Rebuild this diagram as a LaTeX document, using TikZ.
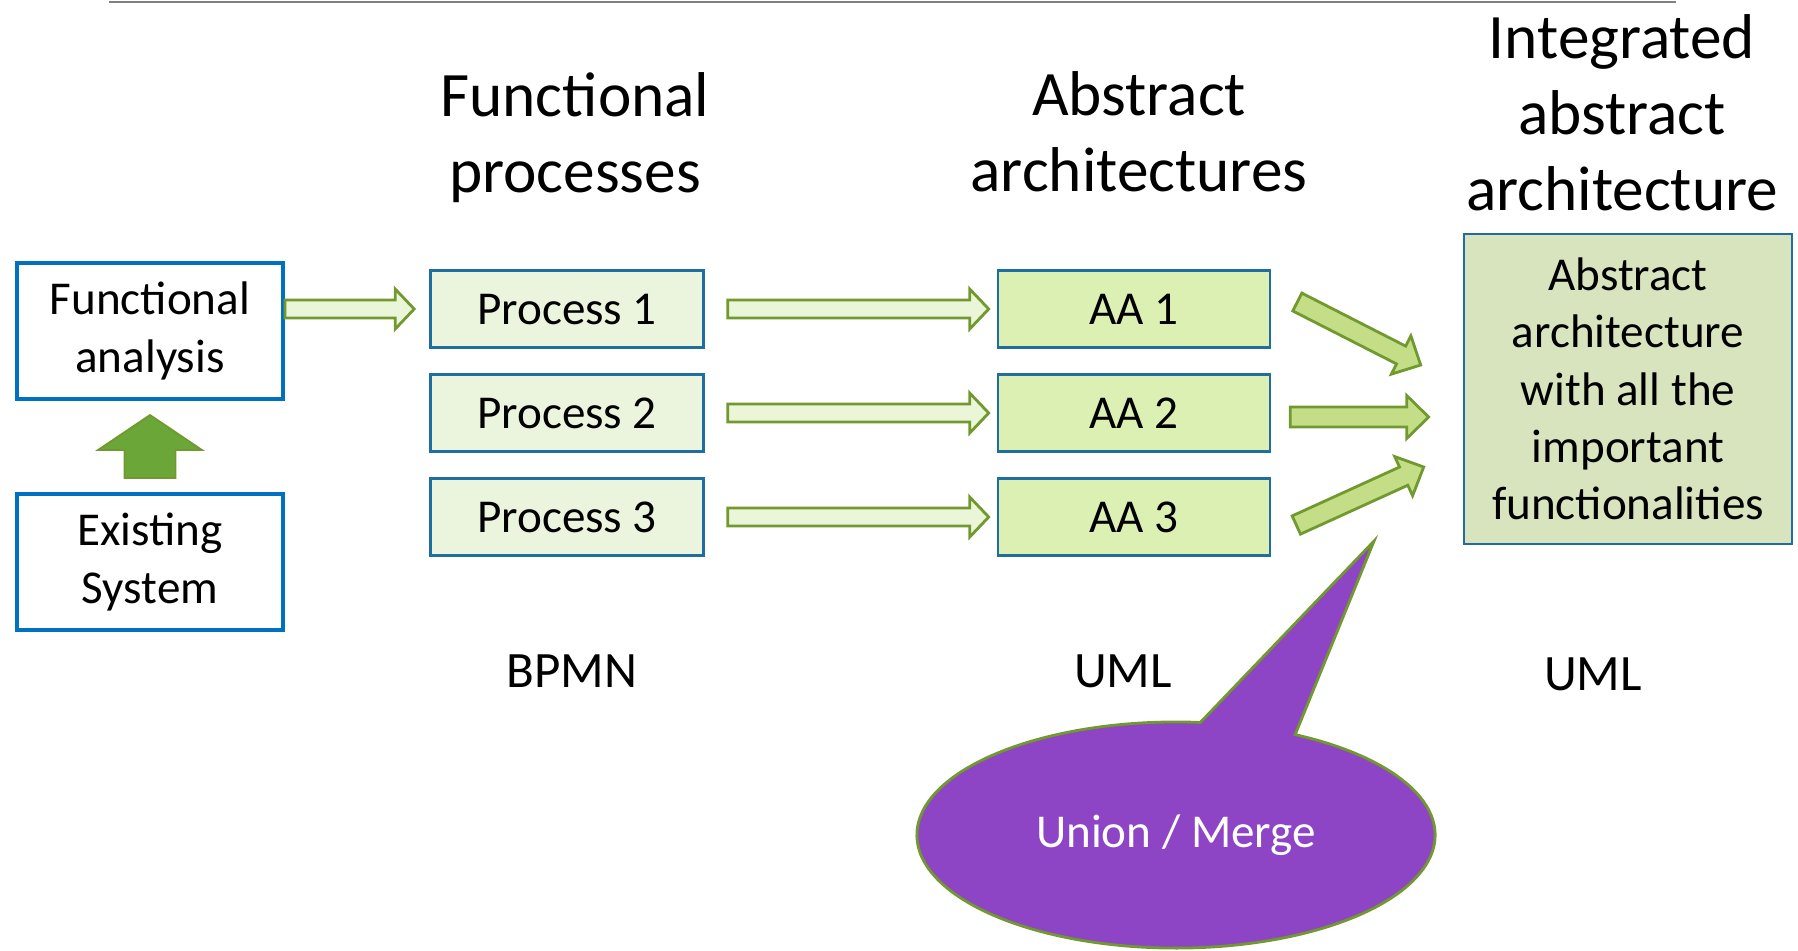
\documentclass[tikz,border=0pt]{standalone}
\usepackage{fontspec}
\setmainfont{Carlito}
\usetikzlibrary{positioning}
\usetikzlibrary{calc}
\usetikzlibrary{shapes,shapes.callouts}

\definecolor{boxblue}{HTML}{0070C0}
\definecolor{lineblue}{HTML}{1F6E9F}
\definecolor{procfill}{HTML}{EBF4DC}
\definecolor{aafill}{HTML}{DDF0B4}
\definecolor{intfill}{HTML}{D7E4BD}
\definecolor{arrowline}{HTML}{71992F}
\definecolor{arrowfill}{HTML}{C3DE87}
\definecolor{hollowfill}{HTML}{EBF5D7}
\definecolor{upgreen}{HTML}{6AA638}
\definecolor{mergepurple}{HTML}{8E45C5}

\tikzstyle{leftbox}=[rectangle,draw=boxblue,line width=1.1pt,minimum width=2.66cm,minimum height=1.36cm,inner sep=0pt,align=center,font=\fontsize{13.4}{16.5}\selectfont]
\tikzstyle{procbox}=[rectangle,draw=lineblue,line width=0.7pt,fill=procfill,minimum width=2.73cm,minimum height=0.77cm,inner sep=0pt,font=\fontsize{13.4}{16}\selectfont]
\tikzstyle{aabox}=[procbox,fill=aafill,minimum width=2.72cm]
\tikzstyle{intbox}=[procbox,fill=intfill,minimum width=3.28cm,minimum height=3.1cm,align=center,font=\fontsize{13.4}{16.3}\selectfont]
\tikzstyle{heading}=[align=center,inner sep=0pt,font=\fontsize{18}{21.6}\selectfont]
\tikzstyle{langlabel}=[inner sep=0pt,font=\fontsize{14.5}{17}\selectfont]
\tikzstyle{hollowarrow}=[draw=arrowline,fill=hollowfill,line width=0.8pt]
\tikzstyle{fillarrow}=[draw=arrowline,fill=arrowfill,line width=0.8pt]
\tikzstyle{uparrow}=[draw=arrowline,fill=upgreen,line width=0.5pt]
\tikzstyle{mergecallout}=[ellipse callout,draw=arrowline,line width=0.8pt,fill=mergepurple,text=white,minimum width=5.18cm,minimum height=2.26cm,callout pointer arc=22,font=\fontsize{13.4}{16}\selectfont]

% block arrow: style, tail, tip, half shaft, half head, head length
\newcommand{\blockarrow}[6]{%
  \coordinate (ba-h) at ($(#3)!#6!(#2)$);
  \draw[#1] ($(#2)!#4!90:(#3)$) -- ($(ba-h)!#4!90:(#3)$) -- ($(ba-h)!#5!90:(#3)$) -- (#3)
     -- ($(ba-h)!#5!-90:(#3)$) -- ($(ba-h)!#4!-90:(#3)$) -- ($(#2)!#4!-90:(#3)$) -- cycle;}

\begin{document}
\begin{tikzpicture}[x=0.01cm,y=0.01cm]
\useasboundingbox (0,0) rectangle (1798,-950);

    % rule on top
    \draw[gray,line width=0.6pt] (109,-2) -- (1676,-2);

    % headings
    \node[heading] (h1) at (575,-138) {Functional\\processes};
    \node[heading] (h2) at (1139,-132) {Abstract\\architectures};
    \node[heading] (h3) at (1622,-113) {Integrated\\abstract\\architecture};

    % left boxes
    \node[leftbox] (fa) at (150,-331) {Functional\\analysis};
    \node[leftbox] (exist) at (150,-562) {Existing\\System};

    % process and AA boxes
    \foreach \pos/\name/\label in {{(567,-309)/p1/Process 1}, {(567,-413)/p2/Process 2}, {(567,-517)/p3/Process 3}}
        \node[procbox] (\name) at \pos {\label};
    \foreach \pos/\name/\label in {{(1134,-309)/a1/AA 1}, {(1134,-413)/a2/AA 2}, {(1134,-517)/a3/AA 3}}
        \node[aabox] (\name) at \pos {\label};

    \node[intbox] (integ) at (1628,-389) {Abstract\\architecture\\with all the\\important\\functionalities};

    % language labels
    \node[langlabel] (bpmn) at (572,-671) {BPMN};
    \node[langlabel] (uml1) at (1123,-671) {UML};
    \node[langlabel] (uml2) at (1593,-674) {UML};

    % arrows
    \coordinate (us) at ($(exist.north)+(0,14)$);
    \coordinate (ue) at ($(fa.south)+(0,-14)$);
    \blockarrow{uparrow}{us}{ue}{0.255cm}{0.52cm}{0.35cm}

    \coordinate (fs) at (fa.east |- p1);
    \coordinate (fe) at ($(p1.west)+(-15,0)$);
    \blockarrow{hollowarrow}{fs}{fe}{0.09cm}{0.2cm}{0.19cm}

    \foreach \i in {1,2,3}{
        \coordinate (ps\i) at ($(p\i.east)+(23,0)$);
        \coordinate (pe\i) at ($(a\i.west)+(-8,0)$);
        \blockarrow{hollowarrow}{ps\i}{pe\i}{0.09cm}{0.2cm}{0.19cm}
    }

    \foreach \name/\s/\e in {1/{26,7}/{-42,24}, 2/{19,-4}/{-34,-28}, 3/{25,-8}/{-39,-78}}{
        \coordinate (as\name) at ($(a\name.east)+(\s)$);
        \coordinate (ae\name) at ($(integ.west)+(\e)$);
        \blockarrow{fillarrow}{as\name}{ae\name}{0.1cm}{0.215cm}{0.22cm}
    }

    % union / merge callout
    \coordinate (tip) at (1374,-541);
    \node[mergecallout,callout absolute pointer={(tip)}] (merge) at (1176,-835) {Union / Merge};

\end{tikzpicture}
\end{document}
